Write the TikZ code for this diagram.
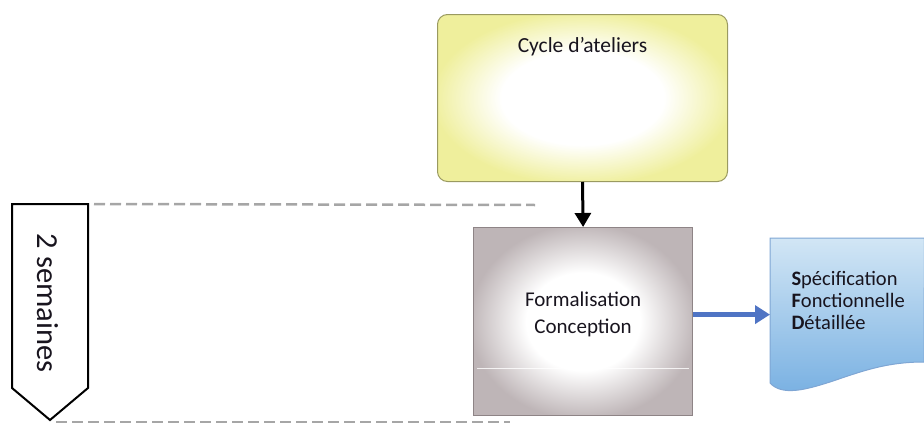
\documentclass[tikz,border=0pt]{standalone}
\usepackage{fontspec}
\setmainfont{Carlito}
\usetikzlibrary{arrows.meta}
\definecolor{yel}{HTML}{EFEF9C}
\definecolor{yelb}{HTML}{9A9A60}
\definecolor{gry}{HTML}{BEB5B7}
\definecolor{gryb}{HTML}{8E8486}
\definecolor{bltop}{HTML}{D2E6F5}
\definecolor{blbot}{HTML}{78B0E2}
\definecolor{blb}{HTML}{7FA6D4}
\definecolor{arr}{HTML}{4F74C4}
\definecolor{dash}{HTML}{A6A6A6}
\definecolor{txt}{HTML}{18141E}
\pgfdeclareradialshading{yelshade}{\pgfpoint{0bp}{0bp}}{color(0bp)=(white); color(14bp)=(white); color(26bp)=(yel); color(50bp)=(yel)}
\pgfdeclareradialshading{gryshade}{\pgfpoint{0bp}{0bp}}{color(0bp)=(white); color(13bp)=(white); color(26bp)=(gry); color(50bp)=(gry)}
\tikzset{
  guide/.style={draw=dash, line width=2.5pt, dash pattern=on 11pt off 5pt},
  yelbox/.style={rounded corners=10pt, draw=yelb, line width=1pt, shading=yelshade, minimum width=290pt, minimum height=167pt},
  grybox/.style={draw=gryb, line width=1.2pt, shading=gryshade, minimum width=219pt, minimum height=188pt},
  lbl/.style={text=txt, align=center},
}
\begin{document}
\begin{tikzpicture}[x=1pt,y=-1pt]
\useasboundingbox (0,0) rectangle (924,423);
% chevron
\coordinate (ctl) at (12,204);
\coordinate (ctr) at (88,204);
\coordinate (cbr) at (88,388);
\coordinate (tip) at (50,420);
\coordinate (cbl) at (12,388);
\draw[line width=2pt, fill=white, line join=miter] (ctl) -- (ctr) -- (cbr) -- (tip) -- (cbl) -- cycle;
\node[rotate=-90, font=\fontsize{30.5}{34}\selectfont, text=txt] (sem) at (48,303) {2 semaines};
% guide lines
\coordinate (g1) at (535,205);
\coordinate (g2) at (510,422);
\draw[guide] ([xshift=6pt]ctr) -- (g1);
\draw[guide] ([xshift=6pt]tip|-g2) -- (g2);
% yellow box
\node[yelbox, anchor=north west] (cycle) at (437,14) {};
\node[lbl, font=\fontsize{21.5}{26}\selectfont, anchor=north] (cyct) at ([yshift=-20pt]cycle.north) {Cycle d’ateliers};
% gray box
\node[grybox, anchor=north west] (form) at (473,227) {};
\draw[white, line width=1pt, opacity=0.8] ([xshift=4pt,yshift=48pt]form.south west) -- ([xshift=-4pt,yshift=48pt]form.south east);
\node[lbl, font=\fontsize{21}{27}\selectfont] (formt) at ([yshift=7pt]form.center) {Formalisation\\Conception};
% document
\node[minimum width=154pt, minimum height=145pt, inner sep=0pt, anchor=north west] (doc) at (770,238) {};
\shade[top color=bltop, bottom color=blbot, draw=blb, line width=1pt]
  (doc.north west) -- (doc.north east) -- (924,362)
  .. controls (885,362) and (860,372) .. (830,382)
  .. controls (805,390) and (782,396) .. (770,383) -- cycle;
\node[lbl, font=\fontsize{20.5}{22}\selectfont, align=left, anchor=west] (doct) at (788,300)
  {\textbf{S}pécification\\\textbf{F}onctionnelle\\\textbf{D}étaillée};
% arrows
\draw[line width=3pt, -{Triangle[length=14pt,width=16pt]}] (cycle.south) -- (form.north);
\draw[arr, line width=4.5pt, -{Triangle[length=15pt,width=18pt]}] ([yshift=7pt]form.east) -- (doc.west|-formt.center) ;
\end{tikzpicture}
\end{document}
